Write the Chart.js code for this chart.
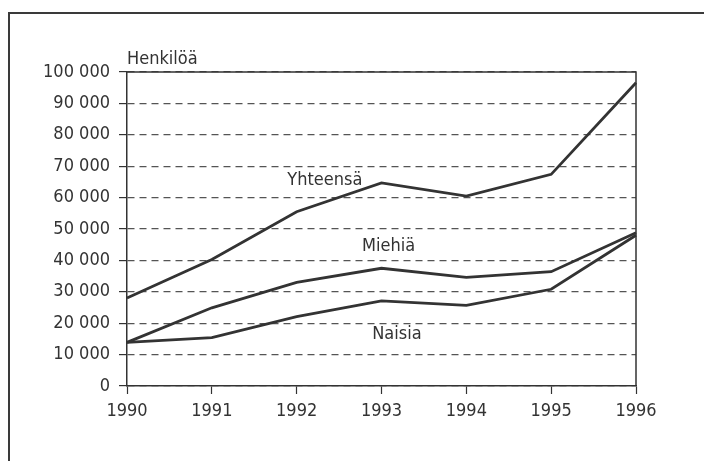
<!DOCTYPE html>
<html>
<head>
<meta charset="utf-8">
<script src="https://cdn.jsdelivr.net/npm/chart.js@4.4.1/dist/chart.umd.min.js"></script>
<style>
  html, body { margin: 0; padding: 0; background: #fff; }
  #wrap  { position: relative; width: 704px; height: 461px; overflow: hidden; background: #fff; }
  #frame { position: absolute; left: 8px; top: 12px; width: 800px; height: 600px;
           border-left: 2px solid #3a3a3a; border-top: 2px solid #3a3a3a; }
  canvas { position: absolute; left: 0; top: 0; }
</style>
</head>
<body>
<div id="wrap">
  <div id="frame"></div>
  <canvas id="chart" width="704" height="461"></canvas>
</div>
<script>
/* ── Données ─────────────────────────────────────────────────── */
const years    = ['1990', '1991', '1992', '1993', '1994', '1995', '1996'];
const yhteensa = [28000, 40300, 55500, 64700, 60500, 67400, 96600];
const miehia   = [13900, 24900, 33000, 37500, 34600, 36400, 48800];
const naisia   = [13900, 15400, 22100, 27100, 25700, 30800, 48000];
const seriesNames = ['Yhteensä', 'Miehiä', 'Naisia'];
const yAxisTitle  = 'Henkilöä';
const yMin = 0, yMax = 100000, yStep = 10000;

const FONT = '"Liberation Sans Narrow", "DejaVu Sans Condensed", sans-serif';
const INK  = '#333';

const fmt = v => String(v).replace(/\B(?=(\d{3})+(?!\d))/g, ' ');

/* ── Plugin : cadre, titre d'axe et étiquettes de séries ─────── */
const decorations = {
  id: 'decorations',
  afterDatasetsDraw(chart, args, opts) {
    const { ctx, chartArea: a, scales: { x, y } } = chart;
    ctx.save();
    ctx.strokeStyle = INK;
    ctx.lineWidth = 1.5;
    ctx.setLineDash([]);
    ctx.beginPath();
    ctx.moveTo(a.left, a.top);
    ctx.lineTo(a.right, a.top);
    ctx.lineTo(a.right, a.bottom);
    ctx.stroke();

    ctx.font = '18px ' + FONT;
    ctx.fillStyle = '#333';
    ctx.textAlign = 'left';
    ctx.textBaseline = 'alphabetic';
    ctx.fillText(yAxisTitle, a.left, a.top - 8);

    ctx.textBaseline = 'middle';
    opts.labels.forEach(l => {
      ctx.fillText(l.text, x.getPixelForValue(l.at), y.getPixelForValue(l.value));
    });
    ctx.restore();
  }
};

const lineStyle = {
  borderColor: INK, borderWidth: 2.8, tension: 0,
  pointRadius: 0, pointHoverRadius: 0, fill: false,
};

new Chart(document.getElementById('chart'), {
  type: 'line',
  data: {
    labels: years,
    datasets: [
      { label: seriesNames[0], data: yhteensa, ...lineStyle },
      { label: seriesNames[1], data: miehia,   ...lineStyle },
      { label: seriesNames[2], data: naisia,   ...lineStyle },
    ],
  },
  options: {
    responsive: false, animation: false,
    layout: { padding: { top: 72, right: 68, left: 0, bottom: 0 } },
    plugins: {
      legend: { display: false }, tooltip: { enabled: false },
      decorations: {
        labels: [
          { text: seriesNames[0], at: 1.89, value: 65600 },
          { text: seriesNames[1], at: 2.77, value: 44600 },
          { text: seriesNames[2], at: 2.89, value: 16600 },
        ],
      },
    },
    scales: {
      x: {
        offset: false,
        grid: { drawOnChartArea: false, drawTicks: true, tickLength: 8, tickColor: INK, tickWidth: 1.2 },
        border: { display: true, color: INK, width: 1.5 },
        ticks: { color: '#333', font: { family: FONT, size: 18 }, padding: 7, maxRotation: 0, autoSkip: false },
        afterFit: s => { s.height = 75; },
      },
      y: {
        min: yMin, max: yMax,
        grid: { color: '#555', lineWidth: 1.2, tickLength: 8, tickColor: INK, tickWidth: 1.2, tickBorderDash: [] },
        border: { display: true, color: INK, width: 1.5, dash: [7, 5] },
        ticks: { stepSize: yStep, color: '#333', font: { family: FONT, size: 18 }, padding: 9, callback: v => fmt(v) },
        afterFit: s => { s.width = 127; },
      },
    },
  },
  plugins: [decorations],
});
</script>
</body>
</html>
